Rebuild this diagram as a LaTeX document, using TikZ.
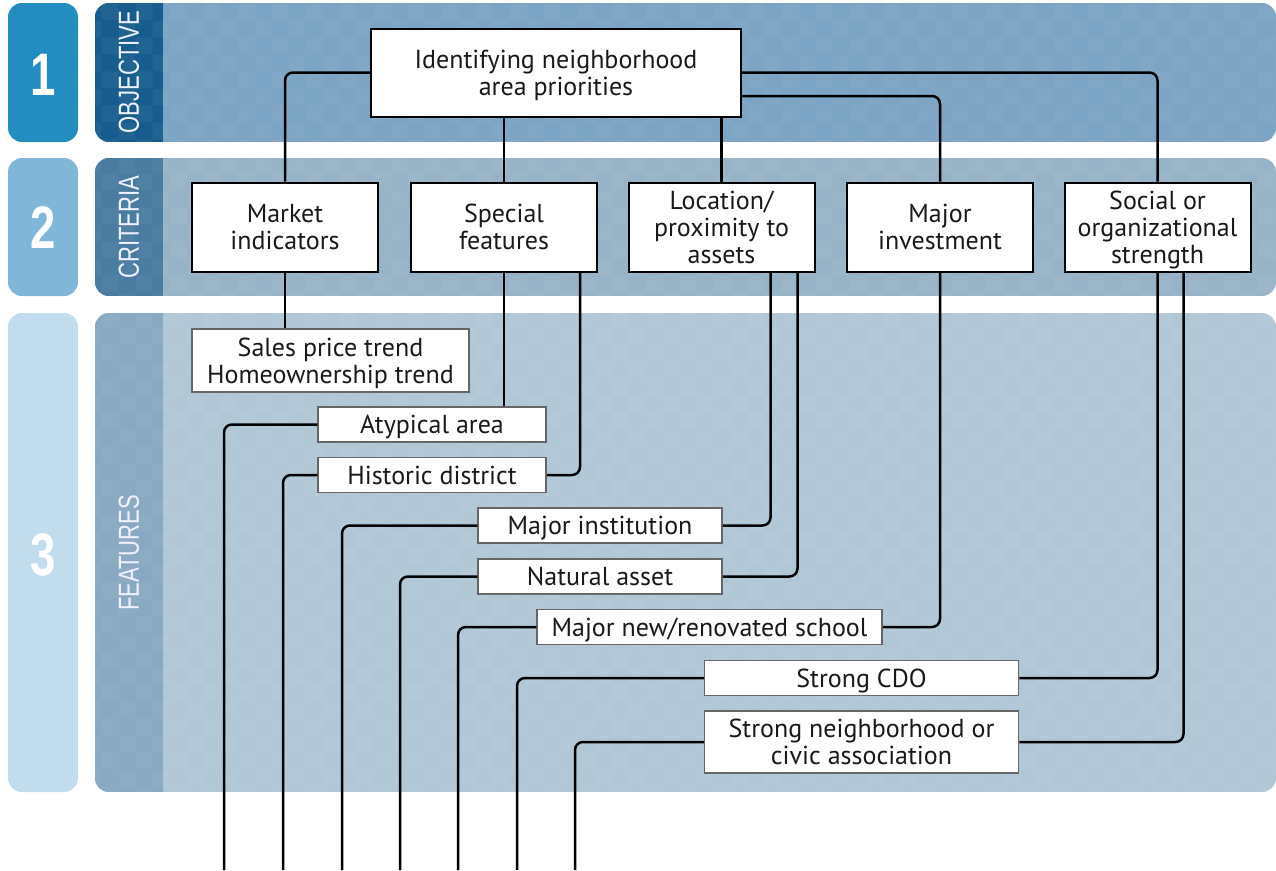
\documentclass[tikz,border=0pt]{standalone}
\usepackage{fontspec}
\setmainfont{PT Sans}
\newfontfamily\condfont[FakeStretch=0.76]{Liberation Sans}
\usetikzlibrary{positioning,patterns.meta}

\definecolor{tabA}{HTML}{238CC0}
\definecolor{tabB}{HTML}{80B6D8}
\definecolor{tabC}{HTML}{C0DCED}
\definecolor{stripA}{HTML}{175C8E}
\definecolor{stripB}{HTML}{4A7BA1}
\definecolor{stripC}{HTML}{88A9C1}
\definecolor{bandA}{HTML}{7CA4C4}
\definecolor{bandB}{HTML}{97B3C7}
\definecolor{bandC}{HTML}{B1C7D6}

\tikzdeclarepattern{
	name=checks, type=uncolored,
	bottom left={(0pt,0pt)}, top right={(34pt,34pt)}, tile size={(34pt,34pt)},
	code={
		\fill (0pt,0pt) rectangle (17pt,17pt);
		\fill (17pt,17pt) rectangle (34pt,34pt);
	}
}

\begin{document}
\begin{tikzpicture}[x=1pt,y=-1pt,
	box/.style={draw=black, line width=2pt, fill=white, align=center, inner sep=0pt, text depth=0pt, text=black!90, font=\fontsize{26}{27}\selectfont},
	feat/.style={draw=black!60, line width=1.5pt, fill=white, align=center, inner sep=0pt, text depth=0pt, text=black!90, font=\fontsize{26}{27}\selectfont},
	link/.style={line width=2.5pt, rounded corners=8pt},
	tab/.style={text=white, font=\condfont\bfseries\fontsize{60}{60}\selectfont},
	lab/.style={rotate=90, text=white!94!blue, font=\condfont\fontsize{29}{29}\selectfont}]

	\useasboundingbox (0,0) rectangle (1276,870);

	\fill[tabA, rounded corners=14pt] (8,3) rectangle (78,142);
	\fill[tabB, rounded corners=14pt] (8,158) rectangle (78,296);
	\fill[tabC, rounded corners=14pt] (8,313) rectangle (78,792);
	\foreach \ya/\yb/\cs/\cm in {3/142/stripA/bandA, 158/296/stripB/bandB, 313/792/stripC/bandC}{
		\begin{scope}
			\clip[rounded corners=14pt] (95,\ya) rectangle (1276,\yb);
			\fill[\cm] (95,\ya) rectangle (1276,\yb);
			\fill[\cs] (95,\ya) rectangle (163,\yb);
			\fill[pattern=checks, pattern color=white, opacity=0.045] (95,\ya) rectangle (1276,\yb);
		\end{scope}
	}

	\node[tab] (one) at (43,75) {1};
	\node[tab] (two) at (43,228) {2};
	\node[tab] (three) at (43,555) {3};
	\node[lab] (objLabel) at (129,72) {OBJECTIVE};
	\node[lab] (critLabel) at (129,227) {CRITERIA};
	\node[lab] (featLabel) at (129,553) {FEATURES};

	\coordinate (atypEnd) at (224,870);
	\coordinate (histEnd) at (283,870);
	\coordinate (instEnd) at (342,870);
	\coordinate (natEnd) at (400,870);
	\coordinate (schoolEnd) at (458,870);
	\coordinate (cdoEnd) at (517,870);
	\coordinate (civicEnd) at (575,870);

	\node[box, minimum width=370, minimum height=88] (obj) at (556,72.5) {Identifying neighborhood\\area priorities};

	\node[box, minimum width=186, minimum height=89] (mkt) at (285,227) {Market\\indicators};
	\node[box, minimum width=186, minimum height=89] (spc) at (504,227) {Special\\features};
	\node[box, minimum width=186, minimum height=89] (loc) at (721.5,227) {Location/\\proximity to\\assets};
	\node[box, minimum width=186, minimum height=89] (inv) at (940,227) {Major\\investment};
	\node[box, minimum width=186, minimum height=89] (soc) at (1157.5,227) {Social or\\organizational\\strength};

	\node[feat, minimum width=277, minimum height=63] (sales) at (330.5,360.5) {Sales price trend\\Homeownership trend};
	\node[feat, minimum width=228, minimum height=35] (atyp) at (432,424.5) {Atypical area};
	\node[feat, minimum width=228, minimum height=35] (hist) at (432,475) {Historic district};
	\node[feat, minimum width=244, minimum height=35] (inst) at (600,525.5) {Major institution};
	\node[feat, minimum width=244, minimum height=35] (nat) at (600,576.5) {Natural asset};
	\node[feat, minimum width=345, minimum height=35] (school) at (709.5,627) {Major new/renovated school};
	\node[feat, minimum width=314, minimum height=35] (cdo) at (861.5,678) {Strong CDO};
	\node[feat, minimum width=314, minimum height=62] (civic) at (861.5,742) {Strong neighborhood or\\civic association};

	\draw[link] (obj.west) -| (mkt.north);
	\draw[link] (obj.south -| spc.north) -- (spc.north);
	\draw[link] (obj.south -| loc.north) -- (loc.north);
	\draw[link] ([yshift=-23.5pt]obj.east) -| (inv.north);
	\draw[link] (obj.east) -| (soc.north);

	\draw[link] (mkt.south) -- (mkt.south |- sales.north);
	\draw[link] (spc.south) -- (spc.south |- atyp.north);
	\draw[link] ([xshift=76pt]spc.south) |- (hist.east);
	\draw[link] ([xshift=49pt]loc.south) |- (inst.east);
	\draw[link] ([xshift=76pt]loc.south) |- (nat.east);
	\draw[link] (inv.south) |- (school.east);
	\draw[link] (soc.south) |- (cdo.east);
	\draw[link] ([xshift=26pt]soc.south) |- (civic.east);

	\draw[link] (atyp.west) -| (atypEnd);
	\draw[link] (hist.west) -| (histEnd);
	\draw[link] (inst.west) -| (instEnd);
	\draw[link] (nat.west) -| (natEnd);
	\draw[link] (school.west) -| (schoolEnd);
	\draw[link] (cdo.west) -| (cdoEnd);
	\draw[link] (civic.west) -| (civicEnd);

\end{tikzpicture}
\end{document}
